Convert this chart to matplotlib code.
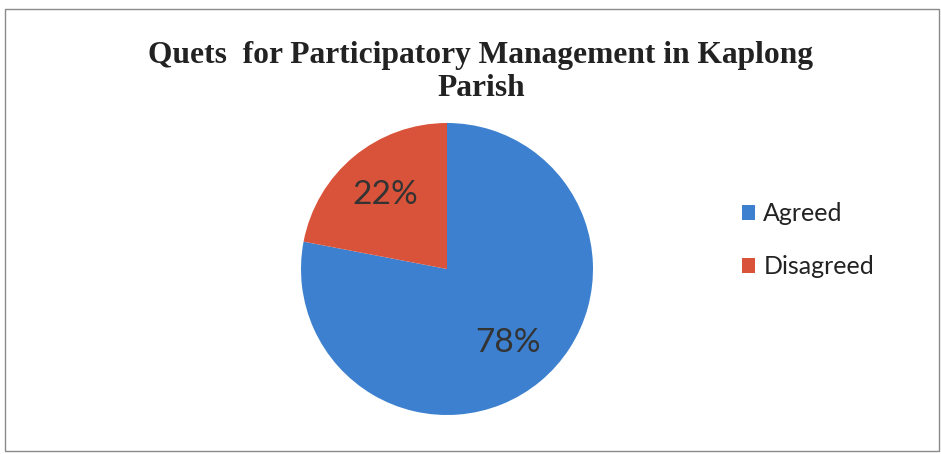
import matplotlib
matplotlib.use("Agg")
import matplotlib.pyplot as plt
from matplotlib.patches import Rectangle

categories = ["Agreed", "Disagreed"]
values = [78, 22]
colors = ["#3c80cf", "#d9533b"]
title_text = "Quets  for Participatory Management in Kaplong\nParish"

W, H = 941, 454
fig = plt.figure(figsize=(W / 100, H / 100), dpi=100)
fig.patch.set_facecolor("white")

# chart border
fig.add_artist(Rectangle((5 / W, 3 / H), (W - 7) / W, (H - 12) / H,
                         transform=fig.transFigure, fill=False,
                         edgecolor="#8a8a8a", linewidth=1.0))

cx, cy, r = 447, 269, 146
ax = fig.add_axes([(cx - r) / W, (H - cy - r) / H, 2 * r / W, 2 * r / H])
wedges, texts, autotexts = ax.pie(
    values, colors=colors, startangle=90, counterclock=False,
    autopct="%d%%", pctdistance=0.66,
    textprops=dict(fontfamily="Lato", fontsize=24, color="#333333"),
    wedgeprops=dict(linewidth=0))
ax.set_xlim(-1, 1)
ax.set_ylim(-1, 1)
ax.set_aspect("auto")
ax.axis("off")

fig.text(481 / W, 1 - 72 / H, title_text, ha="center", va="center",
         fontfamily="Liberation Serif", fontweight="bold", fontsize=22.7,
         color="#222222", linespacing=1.22)

fig.legend(wedges, categories, loc="center left",
           bbox_to_anchor=(719 / W, 1 - 240 / H), frameon=False,
           prop=dict(family="Lato", size=18), labelcolor="#222222",
           handlelength=0.55, handleheight=0.55, handletextpad=0.32,
           labelspacing=1.2)

fig.savefig("out.png", dpi=100)
